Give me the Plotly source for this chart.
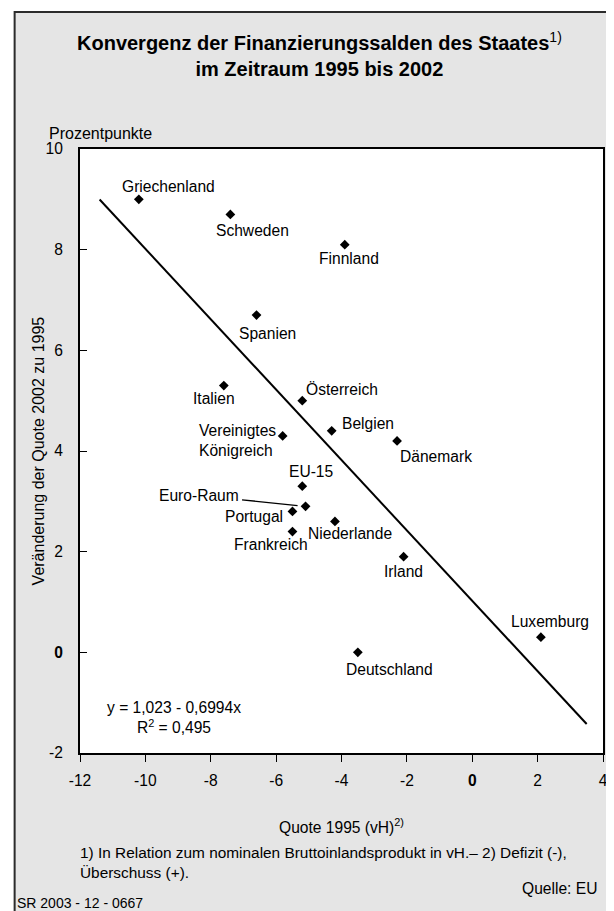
import plotly.graph_objects as go

# ---------------- data ----------------
laender = ["Griechenland", "Schweden", "Finnland", "Spanien", "Italien", "Österreich",
           "Belgien", "Dänemark", "Vereinigtes<br>Königreich", "EU-15", "Euro-Raum",
           "Portugal", "Frankreich", "Niederlande", "Irland", "Luxemburg", "Deutschland"]
quote_1995 = [-10.2, -7.4, -3.9, -6.6, -7.6, -5.2, -4.3, -2.3, -5.8, -5.2, -5.1,
              -5.5, -5.5, -4.2, -2.1, 2.1, -3.5]
veraenderung = [9.0, 8.7, 8.1, 6.7, 5.3, 5.0, 4.4, 4.2, 4.3, 3.3, 2.9,
                2.8, 2.4, 2.6, 1.9, 0.3, 0.0]

reg_intercept = 1.023
reg_slope = -0.6994
reg_x_range = [-11.4, 3.5]

x_ticks = [-12, -10, -8, -6, -4, -2, 0, 2, 4]
y_ticks = [-2, 0, 2, 4, 6, 8, 10]

# ---------------- layout helpers ----------------
# The page body has an 8 px margin, so the figure is drawn 8 px smaller and
# every position below is given in page pixels and shifted by OFF.
OFF = 8
W, H = 614 - OFF, 911 - OFF
PLOT_L, PLOT_R, PLOT_T, PLOT_B = 80, 608, 149, 753   # page pixels
ML = PLOT_L - OFF
MR = (W + OFF) - PLOT_R
MT = PLOT_T - OFF
MB = (H + OFF) - PLOT_B
PW = PLOT_R - PLOT_L
PH = PLOT_B - PLOT_T
FONT = "Liberation Sans, Arial, Helvetica, sans-serif"
FS = 15.6


def px(xp):
    return (xp - PLOT_L) / PW


def py(yp):
    return (PLOT_B - yp) / PH


# label placement (xanchor, xshift px, yshift px)
label_pos = {
    "Griechenland": ("center", 30, 13),
    "Schweden": ("center", 22, -16),
    "Finnland": ("center", 4, -14),
    "Spanien": ("center", 11, -18),
    "Italien": ("center", -10, -13),
    "Österreich": ("left", 2, 11),
    "Belgien": ("left", 8, 7),
    "Dänemark": ("left", 1, -16),
    "Vereinigtes<br>Königreich": ("right", -5, -5),
    "EU-15": ("center", 9, 15),
    "Portugal": ("right", -7, -5),
    "Frankreich": ("center", -21, -13),
    "Niederlande": ("center", 15, -12),
    "Irland": ("center", 0, -15),
    "Luxemburg": ("center", 9, 16),
    "Deutschland": ("center", 32, -17),
}

fig = go.Figure()

reg_y = [reg_intercept + reg_slope * v for v in reg_x_range]
fig.add_trace(go.Scatter(x=reg_x_range, y=reg_y, mode="lines",
                         line=dict(color="black", width=2), hoverinfo="skip",
                         showlegend=False))
fig.add_trace(go.Scatter(x=quote_1995, y=veraenderung, mode="markers",
                         marker=dict(symbol="diamond", size=7.5, color="black"),
                         showlegend=False))

annotations = []
lab_font = dict(family=FONT, size=FS, color="black")
for name, xv, yv in zip(laender, quote_1995, veraenderung):
    if name == "Euro-Raum":
        annotations.append(dict(x=xv, y=yv, xref="x", yref="y", text=name,
                                showarrow=True, arrowhead=0, arrowwidth=1.3,
                                arrowcolor="black", ax=-107, ay=-11, standoff=8,
                                borderpad=3, font=lab_font))
        continue
    xa, xs, ys = label_pos[name]
    annotations.append(dict(x=xv, y=yv, xref="x", yref="y", text=name,
                            showarrow=False, xanchor=xa, yanchor="middle",
                            xshift=xs, yshift=ys, align="left", font=lab_font))

# regression text
annotations.append(dict(x=px(175), y=py(717), xref="paper", yref="paper",
                        text="y = 1,023 - 0,6994x<br>R<sup>2</sup> = 0,495",
                        showarrow=False, xanchor="center", yanchor="middle",
                        align="center", font=lab_font))
# title
annotations.append(dict(x=px(322), y=py(55), xref="paper", yref="paper",
                        text="<b>Konvergenz der Finanzierungssalden des Staates</b><sup>1)</sup><br>"
                             "<b>im Zeitraum 1995 bis 2002</b>",
                        showarrow=False, xanchor="center", yanchor="middle",
                        align="center", font=dict(family=FONT, size=20, color="black")))
# Prozentpunkte
annotations.append(dict(x=px(47), y=py(133), xref="paper", yref="paper",
                        text="Prozentpunkte", showarrow=False, xanchor="left",
                        yanchor="middle", font=dict(family=FONT, size=16, color="black")))
# y axis title
annotations.append(dict(x=px(38), y=py(451), xref="paper", yref="paper",
                        text="Veränderung der Quote 2002 zu 1995", textangle=-90,
                        showarrow=False, xanchor="center", yanchor="middle",
                        font=dict(family=FONT, size=16, color="black")))
# x axis title
annotations.append(dict(x=px(344), y=py(826), xref="paper", yref="paper",
                        text="Quote 1995 (vH)<sup>2)</sup>", showarrow=False,
                        xanchor="center", yanchor="middle",
                        font=dict(family=FONT, size=FS, color="black")))
# footnotes
annotations.append(dict(x=px(78), y=py(862), xref="paper", yref="paper",
                        text="1) In Relation zum nominalen Bruttoinlandsprodukt in vH.\u2013 2) Defizit (-),<br>Überschuss (+).",
                        showarrow=False, xanchor="left", yanchor="middle", align="left",
                        font=dict(family=FONT, size=15.4, color="black")))
annotations.append(dict(x=px(604), y=py(888), xref="paper", yref="paper",
                        text="Quelle: EU", showarrow=False, xanchor="right",
                        yanchor="middle", font=dict(family=FONT, size=FS, color="black")))
annotations.append(dict(x=px(14), y=py(903), xref="paper", yref="paper",
                        text="SR 2003 - 12 - 0667", showarrow=False, xanchor="left",
                        yanchor="middle", font=dict(family=FONT, size=14, color="black")))

shapes = [
    dict(type="rect", xref="paper", yref="paper", x0=px(14), x1=px(650),
         y0=py(960), y1=py(12), fillcolor="#e5e5e5",
         line=dict(color="#2b2b2b", width=2), layer="below"),
    dict(type="rect", xref="paper", yref="paper", x0=0, x1=1, y0=0, y1=1,
         fillcolor="white", line=dict(width=0), layer="below"),
]

axis_common = dict(showline=True, mirror=True, linewidth=2, linecolor="black",
                   showgrid=False, zeroline=False, tickcolor="black",
                   tickwidth=1.2, ticklen=7,
                   tickfont=dict(family=FONT, size=FS, color="black"))

fig.update_layout(
    width=W, height=H, autosize=False,
    margin=dict(l=ML, r=MR, t=MT, b=MB, pad=0),
    paper_bgcolor="white", plot_bgcolor="white",
    xaxis=dict(range=[-12, 4], tickvals=x_ticks,
               ticktext=["<b>0</b>" if v == 0 else str(v) for v in x_ticks],
               ticks="outside", ticklabelstandoff=5, **axis_common),
    yaxis=dict(range=[-2, 10], tickvals=y_ticks,
               ticktext=["<b>0</b>" if v == 0 else str(v) for v in y_ticks],
               ticks="inside", ticklabelstandoff=12, **axis_common),
    annotations=annotations, shapes=shapes,
    showlegend=False,
)

fig.write_html("out.html")
